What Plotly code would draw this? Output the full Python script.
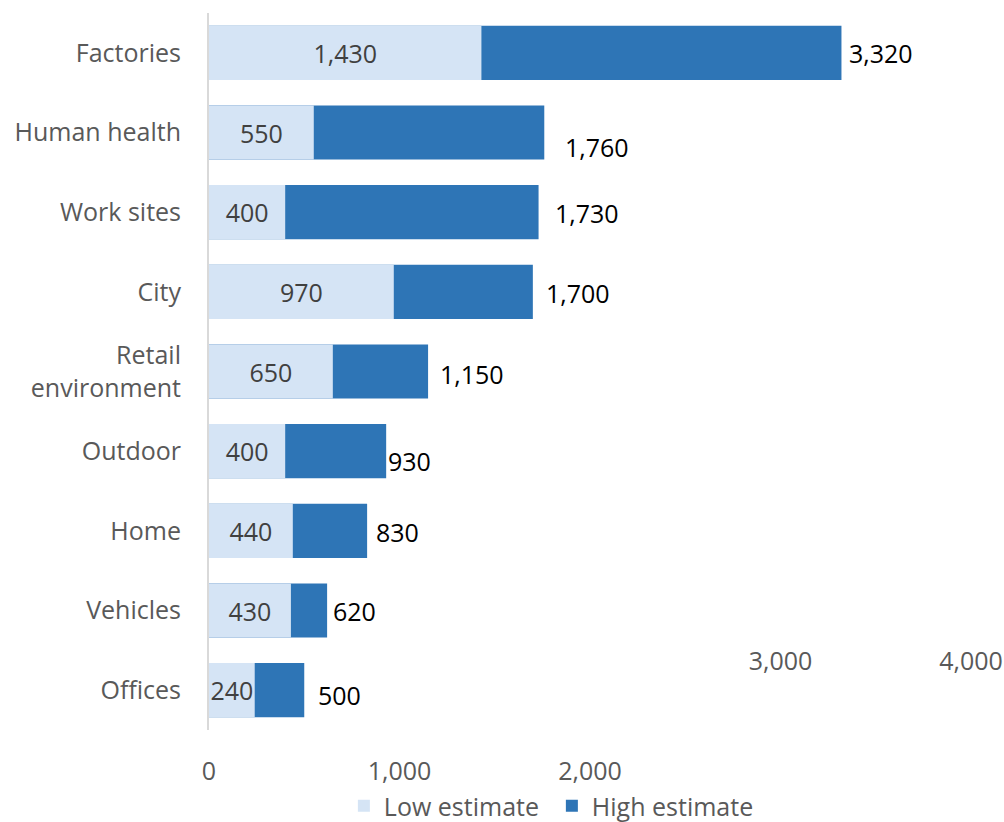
import plotly.graph_objects as go

categories = ["Factories", "Human health", "Work sites", "City", "Retail<br>environment",
              "Outdoor", "Home", "Vehicles", "Offices"]
low_estimate = [1430, 550, 400, 970, 650, 400, 440, 430, 240]
high_estimate = [3320, 1760, 1730, 1700, 1150, 930, 830, 620, 500]
bottom_ticks = [0, 1000, 2000]
upper_ticks = [3000, 4000]

# label pixel offsets (style)
hi_xshift = [6, 19, 14, 11, 10, 0, 7, 4, 12]
hi_yshift = [0, -14, -1, -1, -2, -10, -1, 0, -5]

FONT = "'Open Sans', Lato, sans-serif"
FS = 25
LIGHT = "#D5E4F5"
DARK = "#2E75B6"

fig = go.Figure()
fig.add_trace(go.Bar(
    y=categories, x=high_estimate, orientation="h", name="High estimate",
    marker=dict(color=DARK, line=dict(width=0)), hoverinfo="x+y",
))
fig.add_trace(go.Bar(
    y=categories, x=low_estimate, orientation="h", name="Low estimate",
    marker=dict(color=LIGHT, line=dict(width=0)),
    text=[f"{v:,}" for v in low_estimate], textposition="inside",
    insidetextanchor="middle", textangle=0,
    textfont=dict(family=FONT, size=FS, color="#404040"),
    insidetextfont=dict(family=FONT, size=FS, color="#404040"),
    constraintext="none",
))
# xaxis2 holds the upper tick labels
fig.add_trace(go.Scatter(x=upper_ticks, y=[categories[0]] * 2, xaxis="x2",
                         mode="markers", marker=dict(opacity=0), showlegend=False,
                         hoverinfo="skip"))

for cat, v, dx, dy in zip(categories, high_estimate, hi_xshift, hi_yshift):
    fig.add_annotation(x=v, y=cat, text=f"{v:,}", showarrow=False,
                       xanchor="left", yanchor="middle", xshift=dx, yshift=dy,
                       font=dict(family=FONT, size=FS, color="#000000"))

fig.update_layout(
    width=1004, height=822,
    margin=dict(l=209, r=33, t=13, b=92, autoexpand=False),
    paper_bgcolor="white", plot_bgcolor="white",
    barmode="overlay", bargap=0.32,
    font=dict(family=FONT, size=FS, color="#595959"),
    xaxis=dict(range=[0, 4000], tickvals=bottom_ticks,
               ticktext=[f"{v:,}" for v in bottom_ticks],
               showgrid=False, zeroline=False, showline=False, ticks="",
               ticklabelstandoff=24, automargin=False,
               tickfont=dict(family=FONT, size=FS, color="#595959")),
    xaxis2=dict(range=[0, 4000], overlaying="x", anchor="free", position=0.123,
                side="bottom", tickvals=upper_ticks,
                ticktext=[f"{v:,}" for v in upper_ticks],
                showgrid=False, zeroline=False, showline=False, ticks="",
                ticklabelstandoff=2, automargin=False,
                tickfont=dict(family=FONT, size=FS, color="#595959")),
    yaxis=dict(autorange="reversed", showgrid=False, zeroline=False,
               showline=True, linecolor="#D9D9D9", linewidth=2, ticks="",
               ticklabelstandoff=21, automargin=False,
               tickfont=dict(family=FONT, size=FS, color="#595959")),
    legend=dict(orientation="h", traceorder="reversed", x=0.177, xanchor="left",
                y=-0.106, yanchor="middle", itemwidth=30,
                entrywidth=163, entrywidthmode="pixels",
                font=dict(family=FONT, size=FS, color="#595959")),
    showlegend=True,
)

fig.write_html("out.html")
